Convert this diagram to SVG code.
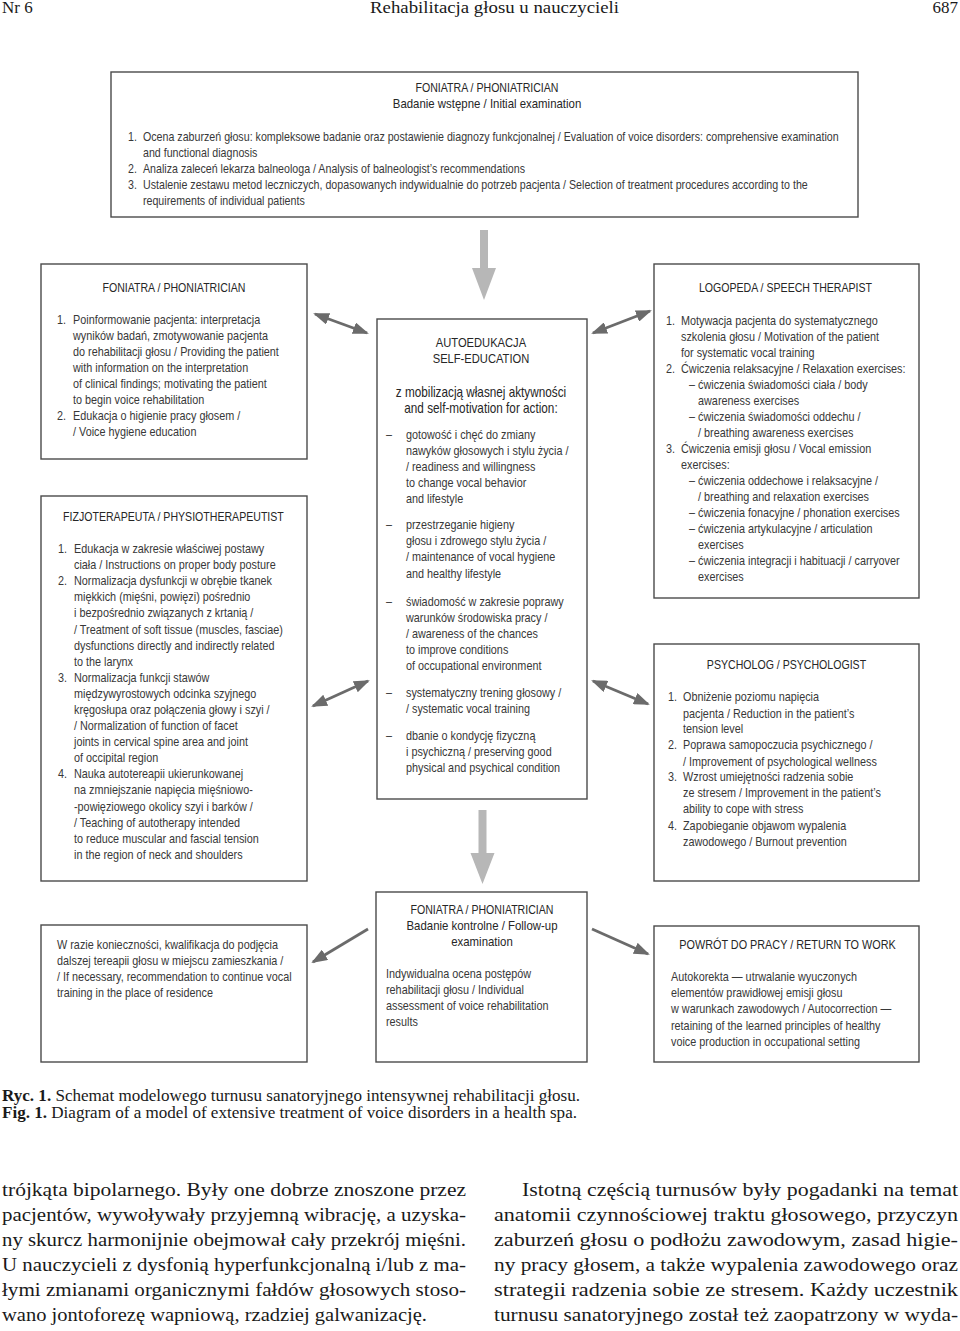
<svg xmlns="http://www.w3.org/2000/svg" width="960" height="1331" viewBox="0 0 960 1331">
<style>
.bg{fill:#fff}
.box{fill:#fff;stroke:#4a4a4a;stroke-width:1.4}
.t{font-family:"Liberation Sans",Arial,sans-serif;font-size:12.9px;fill:#383838}
.tt{font-size:12.7px}
.h{font-family:"Liberation Sans",Arial,sans-serif;font-size:12.6px;fill:#262626}
.h2{font-size:13.6px}
.h3{font-size:13.3px}
.h4{font-size:14px}
.m{text-anchor:middle}
.con{stroke:#6b6b6b;stroke-width:2.8;fill:none}
.big{fill:#b7b7b7}
.serif{font-family:"Liberation Serif","Times New Roman",serif;fill:#1a1a1a}
.cap{font-size:15.8px}
.body{font-size:19.2px}
.hdr{font-size:17px}
</style>
<defs>
<marker id="ah" viewBox="0 0 16 12" refX="14" refY="6" markerWidth="16" markerHeight="12" markerUnits="userSpaceOnUse" orient="auto-start-reverse">
<path d="M0,0 L16,6 L0,12 z" fill="#6b6b6b"/>
</marker>
</defs>
<rect class="bg" x="0" y="0" width="960" height="1331"/>

<g id="page-header" class="serif hdr">
<text x="2" y="13">Nr 6</text>
<text x="370" y="13" textLength="249" lengthAdjust="spacingAndGlyphs">Rehabilitacja głosu u nauczycieli</text>
<text x="958" y="13" text-anchor="end">687</text>
</g>

<g id="connectors">
<polygon class="big" points="480,230 488,230 488,268 496,268 484,300 472,268 480,268"/>
<polygon class="big" points="478.5,810 486.5,810 486.5,853 494.5,853 482.5,884 470.5,853 478.5,853"/>
<line class="con" x1="315" y1="314" x2="367" y2="333" marker-start="url(#ah)" marker-end="url(#ah)"/>
<line class="con" x1="593" y1="333" x2="650" y2="311" marker-start="url(#ah)" marker-end="url(#ah)"/>
<line class="con" x1="313" y1="706" x2="368" y2="681" marker-start="url(#ah)" marker-end="url(#ah)"/>
<line class="con" x1="593" y1="681" x2="648" y2="704" marker-start="url(#ah)" marker-end="url(#ah)"/>
<line class="con" x1="368" y1="929" x2="313" y2="962" marker-end="url(#ah)"/>
<line class="con" x1="592" y1="929" x2="648" y2="954" marker-end="url(#ah)"/>
</g>

<g id="initial-exam">
<rect class="box" x="111" y="72" width="747" height="145"/>
<g transform="scale(0.84 1)">
<text class="h m" x="579.8" y="92">FONIATRA / PHONIATRICIAN</text>
<text class="h h2 m" x="579.8" y="108">Badanie wstępne / Initial examination</text>
<text class="t tt" x="152.4" y="141">1.</text>
<text class="t tt" x="170.2" y="141">Ocena zaburzeń głosu: kompleksowe badanie oraz postawienie diagnozy funkcjonalnej / Evaluation of voice disorders: comprehensive examination</text>
<text class="t tt" x="170.2" y="157">and functional diagnosis</text>
<text class="t tt" x="152.4" y="173">2.</text>
<text class="t tt" x="170.2" y="173">Analiza zaleceń lekarza balneologa / Analysis of balneologist’s recommendations</text>
<text class="t tt" x="152.4" y="189">3.</text>
<text class="t tt" x="170.2" y="189">Ustalenie zestawu metod leczniczych, dopasowanych indywidualnie do potrzeb pacjenta / Selection of treatment procedures according to the</text>
<text class="t tt" x="170.2" y="205">requirements of individual patients</text>
</g>
</g>

<g id="phoniatrician">
<rect class="box" x="41" y="264" width="266" height="195"/>
<g transform="scale(0.84 1)">
<text class="h m" x="207.1" y="292">FONIATRA / PHONIATRICIAN</text>
<text class="t" x="67.9" y="324">1.</text>
<text class="t" x="86.9" y="324">Poinformowanie pacjenta: interpretacja</text>
<text class="t" x="86.9" y="340">wyników badań, zmotywowanie pacjenta</text>
<text class="t" x="86.9" y="356">do rehabilitacji głosu / Providing the patient</text>
<text class="t" x="86.9" y="372">with information on the interpretation</text>
<text class="t" x="86.9" y="388">of clinical findings; motivating the patient</text>
<text class="t" x="86.9" y="404">to begin voice rehabilitation</text>
<text class="t" x="67.9" y="420">2.</text>
<text class="t" x="86.9" y="420">Edukacja o higienie pracy głosem /</text>
<text class="t" x="86.9" y="436">/ Voice hygiene education</text>
</g>
</g>

<g id="physiotherapist">
<rect class="box" x="41" y="496" width="266" height="385"/>
<g transform="scale(0.84 1)">
<text class="h m" x="206.5" y="521">FIZJOTERAPEUTA / PHYSIOTHERAPEUTIST</text>
<text class="t" x="69" y="553">1.</text>
<text class="t" x="88.1" y="553">Edukacja w zakresie właściwej postawy</text>
<text class="t" x="88.1" y="569">ciała / Instructions on proper body posture</text>
<text class="t" x="69" y="585">2.</text>
<text class="t" x="88.1" y="585">Normalizacja dysfunkcji w obrębie tkanek</text>
<text class="t" x="88.1" y="601">miękkich (mięśni, powięzi) pośrednio</text>
<text class="t" x="88.1" y="617">i bezpośrednio związanych z krtanią /</text>
<text class="t" x="88.1" y="634">/ Treatment of soft tissue (muscles, fasciae)</text>
<text class="t" x="88.1" y="650">dysfunctions directly and indirectly related</text>
<text class="t" x="88.1" y="666">to the larynx</text>
<text class="t" x="69" y="682">3.</text>
<text class="t" x="88.1" y="682">Normalizacja funkcji stawów</text>
<text class="t" x="88.1" y="698">międzywyrostowych odcinka szyjnego</text>
<text class="t" x="88.1" y="714">kręgosłupa oraz połączenia głowy i szyi /</text>
<text class="t" x="88.1" y="730">/ Normalization of function of facet</text>
<text class="t" x="88.1" y="746">joints in cervical spine area and joint</text>
<text class="t" x="88.1" y="762">of occipital region</text>
<text class="t" x="69" y="778">4.</text>
<text class="t" x="88.1" y="778">Nauka autotereapii ukierunkowanej</text>
<text class="t" x="88.1" y="794">na zmniejszanie napięcia mięśniowo-</text>
<text class="t" x="88.1" y="811">-powięziowego okolicy szyi i barków /</text>
<text class="t" x="88.1" y="827">/ Teaching of autotherapy intended</text>
<text class="t" x="88.1" y="843">to reduce muscular and fascial tension</text>
<text class="t" x="88.1" y="859">in the region of neck and shoulders</text>
</g>
</g>

<g id="self-education">
<rect class="box" x="377" y="319" width="210" height="480"/>
<g transform="scale(0.84 1)">
<text class="h h3 m" x="572.6" y="347">AUTOEDUKACJA</text>
<text class="h h3 m" x="572.6" y="363">SELF-EDUCATION</text>
<text class="h h4 m" x="572.6" y="397">z mobilizacją własnej aktywności</text>
<text class="h h4 m" x="572.6" y="413">and self-motivation for action:</text>
<text class="t" x="459.5" y="439">–</text>
<text class="t" x="483.3" y="439">gotowość i chęć do zmiany</text>
<text class="t" x="483.3" y="455">nawyków głosowych i stylu życia /</text>
<text class="t" x="483.3" y="471">/ readiness and willingness</text>
<text class="t" x="483.3" y="487">to change vocal behavior</text>
<text class="t" x="483.3" y="503">and lifestyle</text>
<text class="t" x="459.5" y="529">–</text>
<text class="t" x="483.3" y="529">przestrzeganie higieny</text>
<text class="t" x="483.3" y="545">głosu i zdrowego stylu życia /</text>
<text class="t" x="483.3" y="561">/ maintenance of vocal hygiene</text>
<text class="t" x="483.3" y="578">and healthy lifestyle</text>
<text class="t" x="459.5" y="606">–</text>
<text class="t" x="483.3" y="606">świadomość w zakresie poprawy</text>
<text class="t" x="483.3" y="622">warunków środowiska pracy /</text>
<text class="t" x="483.3" y="638">/ awareness of the chances</text>
<text class="t" x="483.3" y="654">to improve conditions</text>
<text class="t" x="483.3" y="670">of occupational environment</text>
<text class="t" x="459.5" y="697">–</text>
<text class="t" x="483.3" y="697">systematyczny trening głosowy /</text>
<text class="t" x="483.3" y="713">/ systematic vocal training</text>
<text class="t" x="459.5" y="740">–</text>
<text class="t" x="483.3" y="740">dbanie o kondycję fizyczną</text>
<text class="t" x="483.3" y="756">i psychiczną / preserving good</text>
<text class="t" x="483.3" y="772">physical and psychical condition</text>
</g>
</g>

<g id="speech-therapist">
<rect class="box" x="654" y="264" width="265" height="334"/>
<g transform="scale(0.84 1)">
<text class="h m" x="935.1" y="292">LOGOPEDA / SPEECH THERAPIST</text>
<text class="t" x="792.9" y="325">1.</text>
<text class="t" x="810.7" y="325">Motywacja pacjenta do systematycznego</text>
<text class="t" x="810.7" y="341">szkolenia głosu / Motivation of the patient</text>
<text class="t" x="810.7" y="357">for systematic vocal training</text>
<text class="t" x="792.9" y="373">2.</text>
<text class="t" x="810.7" y="373">Ćwiczenia relaksacyjne / Relaxation exercises:</text>
<text class="t" x="820.2" y="389">–</text>
<text class="t" x="831" y="389">ćwiczenia świadomości ciała / body</text>
<text class="t" x="831" y="405">awareness exercises</text>
<text class="t" x="820.2" y="421">–</text>
<text class="t" x="831" y="421">ćwiczenia świadomości oddechu /</text>
<text class="t" x="831" y="437">/ breathing awareness exercises</text>
<text class="t" x="792.9" y="453">3.</text>
<text class="t" x="810.7" y="453">Ćwiczenia emisji głosu / Vocal emission</text>
<text class="t" x="810.7" y="469">exercises:</text>
<text class="t" x="820.2" y="485">–</text>
<text class="t" x="831" y="485">ćwiczenia oddechowe i relaksacyjne /</text>
<text class="t" x="831" y="501">/ breathing and relaxation exercises</text>
<text class="t" x="820.2" y="517">–</text>
<text class="t" x="831" y="517">ćwiczenia fonacyjne / phonation exercises</text>
<text class="t" x="820.2" y="533">–</text>
<text class="t" x="831" y="533">ćwiczenia artykulacyjne / articulation</text>
<text class="t" x="831" y="549">exercises</text>
<text class="t" x="820.2" y="565">–</text>
<text class="t" x="831" y="565">ćwiczenia integracji i habituacji / carryover</text>
<text class="t" x="831" y="581">exercises</text>
</g>
</g>

<g id="psychologist">
<rect class="box" x="654" y="644" width="265" height="237"/>
<g transform="scale(0.84 1)">
<text class="h m" x="936.3" y="669">PSYCHOLOG / PSYCHOLOGIST</text>
<text class="t" x="795.2" y="701">1.</text>
<text class="t" x="813.1" y="701">Obniżenie poziomu napięcia</text>
<text class="t" x="813.1" y="718">pacjenta / Reduction in the patient’s</text>
<text class="t" x="813.1" y="733">tension level</text>
<text class="t" x="795.2" y="749">2.</text>
<text class="t" x="813.1" y="749">Poprawa samopoczucia psychicznego /</text>
<text class="t" x="813.1" y="766">/ Improvement of psychological wellness</text>
<text class="t" x="795.2" y="781">3.</text>
<text class="t" x="813.1" y="781">Wzrost umiejętności radzenia sobie</text>
<text class="t" x="813.1" y="797">ze stresem / Improvement in the patient’s</text>
<text class="t" x="813.1" y="813">ability to cope with stress</text>
<text class="t" x="795.2" y="830">4.</text>
<text class="t" x="813.1" y="830">Zapobieganie objawom wypalenia</text>
<text class="t" x="813.1" y="846">zawodowego / Burnout prevention</text>
</g>
</g>

<g id="further-therapy">
<rect class="box" x="41" y="925" width="266" height="137"/>
<g transform="scale(0.84 1)">
<text class="t" x="67.9" y="949">W razie konieczności, kwalifikacja do podjęcia</text>
<text class="t" x="67.9" y="965">dalszej tereapii głosu w miejscu zamieszkania /</text>
<text class="t" x="67.9" y="981">/ If necessary, recommendation to continue vocal</text>
<text class="t" x="67.9" y="997">training in the place of residence</text>
</g>
</g>

<g id="follow-up">
<rect class="box" x="376" y="892" width="211" height="170"/>
<g transform="scale(0.84 1)">
<text class="h m" x="573.8" y="914">FONIATRA / PHONIATRICIAN</text>
<text class="h h2 m" x="573.8" y="930">Badanie kontrolne / Follow-up</text>
<text class="h h2 m" x="573.8" y="946">examination</text>
<text class="t" x="459.5" y="978">Indywidualna ocena postępów</text>
<text class="t" x="459.5" y="994">rehabilitacji głosu / Individual</text>
<text class="t" x="459.5" y="1010">assessment of voice rehabilitation</text>
<text class="t" x="459.5" y="1026">results</text>
</g>
</g>

<g id="return-to-work">
<rect class="box" x="654" y="926" width="265" height="136"/>
<g transform="scale(0.84 1)">
<text class="h m" x="937.5" y="949" style="font-size:12.9px">POWRÓT DO PRACY / RETURN TO WORK</text>
<text class="t" x="798.8" y="981">Autokorekta — utrwalanie wyuczonych</text>
<text class="t" x="798.8" y="997">elementów prawidłowej emisji głosu</text>
<text class="t" x="798.8" y="1013">w warunkach zawodowych / Autocorrection —</text>
<text class="t" x="798.8" y="1030">retaining of the learned principles of healthy</text>
<text class="t" x="798.8" y="1046">voice production in occupational setting</text>
</g>
</g>

<g id="caption" class="serif cap">
<text x="2" y="1101" textLength="578" lengthAdjust="spacingAndGlyphs"><tspan font-weight="bold">Ryc. 1.</tspan> Schemat modelowego turnusu sanatoryjnego intensywnej rehabilitacji głosu.</text>
<text x="2" y="1118" textLength="575" lengthAdjust="spacingAndGlyphs"><tspan font-weight="bold">Fig. 1.</tspan> Diagram of a model of extensive treatment of voice disorders in a health spa.</text>
</g>

<g id="body-text" class="serif body">
<text x="2" y="1196" textLength="464" lengthAdjust="spacingAndGlyphs">trójkąta bipolarnego. Były one dobrze znoszone przez</text>
<text x="2" y="1221" textLength="464" lengthAdjust="spacingAndGlyphs">pacjentów, wywoływały przyjemną wibrację, a uzyska-</text>
<text x="2" y="1246" textLength="464" lengthAdjust="spacingAndGlyphs">ny skurcz harmonijnie obejmował cały przekrój mięśni.</text>
<text x="2" y="1271" textLength="464" lengthAdjust="spacingAndGlyphs">U nauczycieli z dysfonią hyperfunkcjonalną i/lub z ma-</text>
<text x="2" y="1296" textLength="464" lengthAdjust="spacingAndGlyphs">łymi zmianami organicznymi fałdów głosowych stoso-</text>
<text x="2" y="1321" textLength="425" lengthAdjust="spacingAndGlyphs">wano jontoforezę wapniową, rzadziej galwanizację.</text>
<text x="522" y="1196" textLength="436" lengthAdjust="spacingAndGlyphs">Istotną częścią turnusów były pogadanki na temat</text>
<text x="494" y="1221" textLength="464" lengthAdjust="spacingAndGlyphs">anatomii czynnościowej traktu głosowego, przyczyn</text>
<text x="494" y="1246" textLength="464" lengthAdjust="spacingAndGlyphs">zaburzeń głosu o podłożu zawodowym, zasad higie-</text>
<text x="494" y="1271" textLength="464" lengthAdjust="spacingAndGlyphs">ny pracy głosem, a także wypalenia zawodowego oraz</text>
<text x="494" y="1296" textLength="464" lengthAdjust="spacingAndGlyphs">strategii radzenia sobie ze stresem. Każdy uczestnik</text>
<text x="494" y="1321" textLength="464" lengthAdjust="spacingAndGlyphs">turnusu sanatoryjnego został też zaopatrzony w wyda-</text>
</g>
</svg>
